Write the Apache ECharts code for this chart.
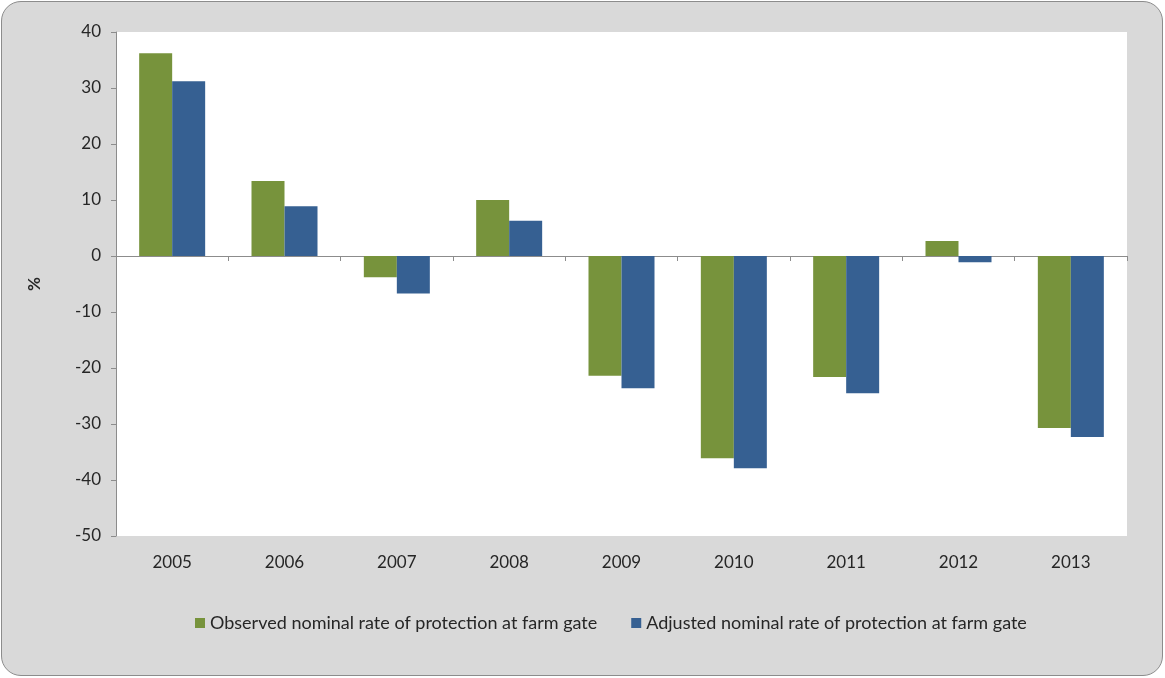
<!DOCTYPE html>
<html><head><meta charset="utf-8">
<script src="https://cdn.jsdelivr.net/npm/echarts@6/dist/echarts.min.js"></script>
<style>
html,body{margin:0;padding:0;background:#fff;}
#frame{position:absolute;left:1px;top:1px;width:1160px;height:673px;background:#d9d9d9;border:1.5px solid #8c8c8c;border-radius:20px;}
#chart{position:absolute;left:0;top:0;width:1165px;height:678px;}
</style></head>
<body>
<div id="frame"></div>
<div id="chart"></div>
<script>
const categories = ['2005','2006','2007','2008','2009','2010','2011','2012','2013'];
const observed = [36.2, 13.4, -3.8, 10.0, -21.4, -36.1, -21.6, 2.7, -30.7];
const adjusted = [31.2, 8.9, -6.7, 6.3, -23.6, -37.9, -24.5, -1.1, -32.3];
const seriesNames = ['Observed nominal rate of protection at farm gate','Adjusted nominal rate of protection at farm gate'];
const FONT = 'Lato';
const chart = echarts.init(document.getElementById('chart'));
chart.setOption({
  backgroundColor: 'transparent',
  animation: false,
  textStyle: {fontFamily: FONT},
  grid: {left: 116, right: 38, top: 32, bottom: 142, show: true, backgroundColor: '#ffffff', borderWidth: 0},
  legend: {
    top: 609, left: 190, itemWidth: 10, itemHeight: 10, itemGap: 34,
    icon: 'rect',
    textStyle: {fontFamily: FONT, fontSize: 18, color: '#262626'},
    data: seriesNames
  },
  xAxis: [{
    type: 'category', data: categories,
    axisLine: {onZero: true, lineStyle: {color: '#8c8c8c', width: 1}},
    axisTick: {show: true, length: 5, lineStyle: {color: '#8c8c8c'}},
    axisLabel: {show: false}
  },{
    type: 'category', data: categories, position: 'bottom',
    axisLine: {show: false}, axisTick: {show: false},
    axisLabel: {show: true, margin: 18, fontFamily: FONT, fontSize: 17, color: '#262626'}
  }],
  yAxis: {
    type: 'value', min: -50, max: 40, interval: 10,
    name: '%', nameLocation: 'middle', nameGap: 73, nameRotate: 90,
    nameTextStyle: {fontFamily: FONT, fontSize: 17, color: '#262626', fontWeight: 'bold'},
    axisLine: {show: true, lineStyle: {color: '#8c8c8c'}},
    axisTick: {show: true, length: 5, lineStyle: {color: '#8c8c8c'}},
    splitLine: {show: false},
    axisLabel: {margin: 15, fontFamily: FONT, fontSize: 17, color: '#262626'}
  },
  series: [{
    name: seriesNames[0], type: 'bar', data: observed, barWidth: 33, barGap: '0%',
    itemStyle: {color: '#77933c'}
  },{
    name: seriesNames[1], type: 'bar', data: adjusted, barWidth: 33,
    itemStyle: {color: '#366092'}
  }]
});
</script>
</body></html>
